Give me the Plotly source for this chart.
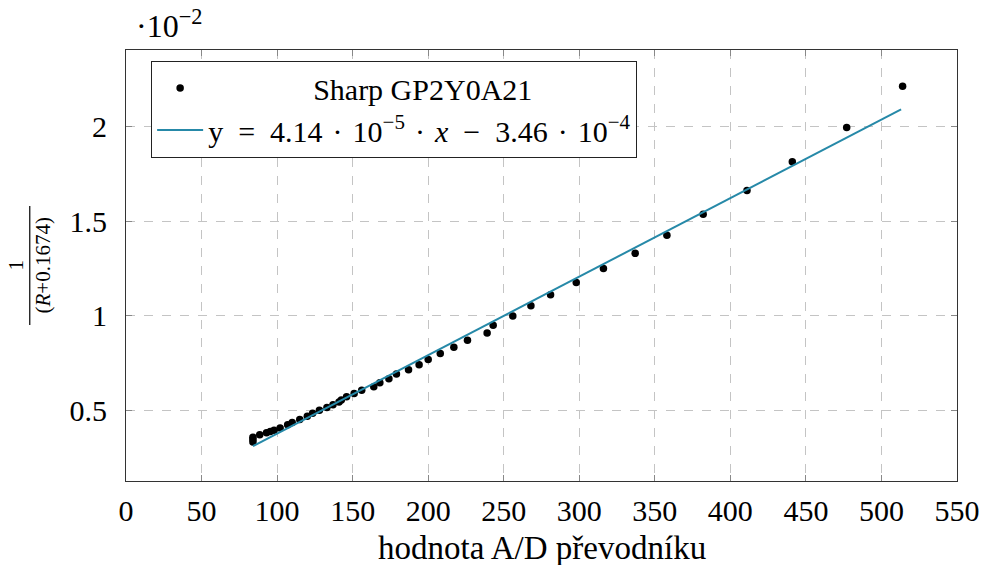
import plotly.graph_objects as go

# A/D converter values
ad_values = [84, 84, 84, 88.5, 93, 95.5, 98, 102, 107, 110, 115, 120, 123.5, 128, 133,
             137, 141, 142.5, 146, 151, 156, 164, 168, 174, 179, 187, 194, 200, 208, 217,
             226, 239, 243, 256, 268, 281, 298, 316, 337, 358, 382, 411, 441, 477, 514]
# 1/(R+0.1674) in units of 10^-2
inv_dist = [0.335, 0.348, 0.360, 0.373, 0.384, 0.390, 0.397, 0.408, 0.426, 0.437, 0.453,
            0.471, 0.487, 0.502, 0.517, 0.531, 0.546, 0.556, 0.574, 0.591, 0.608, 0.626,
            0.648, 0.669, 0.693, 0.716, 0.743, 0.770, 0.802, 0.835, 0.871, 0.910, 0.951,
            1.000, 1.053, 1.112, 1.176, 1.250, 1.330, 1.426, 1.536, 1.662, 1.814, 1.994, 2.212]

# linear fit coefficients (real units)
slope = 4.14e-5
intercept = -3.46e-4
fit_x = [84, 513]
fit_y = [(slope * v + intercept) * 1e2 for v in fit_x]

x_ticks = [0, 50, 100, 150, 200, 250, 300, 350, 400, 450, 500, 550]
y_ticks = [0.5, 1, 1.5, 2]
y_ticktext = ["0.5", "1", "1.5", "2"]

FONT = "Liberation Serif"
NB = "\u00a0"
SP = "\u2004"
WS = NB * 2

fig = go.Figure()
fig.add_trace(go.Scatter(
    x=ad_values, y=inv_dist, mode="markers",
    marker=dict(color="black", size=7.5),
    name=NB * 14 + "Sharp GP2Y0A21",
))
fig.add_trace(go.Scatter(
    x=fit_x, y=fit_y, mode="lines",
    line=dict(color="#2689a8", width=2),
    name=("y" + WS + "=" + WS + "4.14" + SP + "·" + SP + "10<sup>−5</sup>" + SP + "·" + SP
          + "<i>x</i>" + WS + "−" + WS + "3.46" + SP + "·" + SP + "10<sup>−4</sup>"),
))

axis_common = dict(
    showline=True, linecolor="#333333", linewidth=1.2, mirror="allticks",
    ticks="inside", ticklen=6, tickcolor="#888888", tickwidth=1,
    showgrid=True, gridcolor="#c4c4c4", griddash="dash", gridwidth=1,
    zeroline=False, automargin=False,
    tickfont=dict(family=FONT, size=30, color="black"),
)

fig.update_xaxes(range=[0, 550], tickvals=x_ticks, ticklabelstandoff=3, **axis_common)
fig.update_yaxes(range=[0.129, 2.403], tickvals=y_ticks, ticktext=y_ticktext,
                 ticklabelstandoff=12, **axis_common)

fig.update_layout(
    width=985, height=565,
    margin=dict(l=126, r=28, t=50, b=84),
    plot_bgcolor="white", paper_bgcolor="white",
    font=dict(family=FONT, size=30, color="black"),
    showlegend=True,
    legend=dict(
        x=0.030, y=0.975, xanchor="left", yanchor="top",
        bgcolor="white", bordercolor="#222222", borderwidth=1.2,
        font=dict(family=FONT, size=30, color="black"),
        tracegroupgap=0, itemwidth=46,
    ),
    annotations=[
        dict(text="·10<sup>−2</sup>", xref="paper", yref="paper", x=0.0, y=1.0,
             xanchor="left", yanchor="bottom", xshift=8, yshift=4, showarrow=False,
             font=dict(family=FONT, size=32)),
        dict(text="hodnota A/D převodníku", xref="paper", yref="paper", x=0.5, y=0,
             xanchor="center", yanchor="top", yshift=-47, showarrow=False,
             font=dict(family=FONT, size=33)),
        dict(text="1<br>(<i>R</i>+0.1674)", xref="paper", yref="paper", x=0, y=0.5,
             xanchor="center", yanchor="middle", xshift=-97, showarrow=False,
             textangle=-90, font=dict(family=FONT, size=21)),
    ],
    shapes=[
        dict(type="line", xref="paper", yref="paper", x0=-0.1158, x1=-0.1158,
             y0=0.362, y1=0.638, line=dict(color="black", width=1.2)),
    ],
)

fig.write_html("out.html")
